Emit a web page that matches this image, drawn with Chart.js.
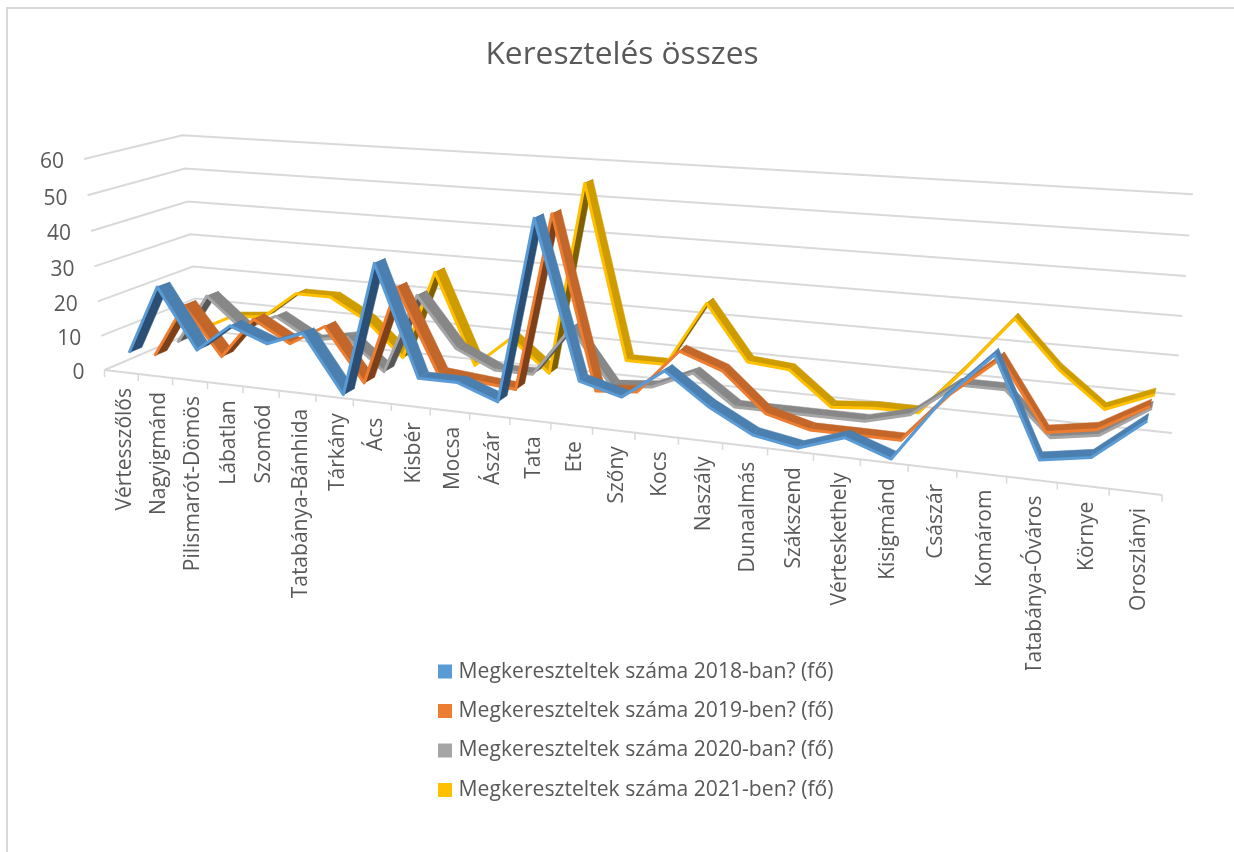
<!DOCTYPE html>
<html lang="hu">
<head>
<meta charset="utf-8">
<style>html,body{margin:0;padding:0;background:#fff}canvas{display:block}</style>
<script src="https://cdn.jsdelivr.net/npm/chart.js@4"></script>
</head>
<body>
<canvas id="c" width="1234" height="852"></canvas>
<script>
const categories = ["Vértesszőlős","Nagyigmánd","Pilismarót-Dömös","Lábatlan","Szomód","Tatabánya-Bánhida","Tárkány","Ács","Kisbér","Mocsa","Ászár","Tata","Ete","Szőny","Kocs","Naszály","Dunaalmás","Szákszend","Vérteskethely","Kisigmánd","Császár","Komárom","Tatabánya-Óváros","Környe","Oroszlányi"];
const values2018 = [5,25,8,16,12,16,0,37,7,7,3,52,11,8,16,8,2,0,4,0,16,28,4,6,16];
const values2019 = [1,17,3,15,9,15,0,28,5,4,3,51,5,6,18,14,4,1,1,1,14,24,7,9,16];
const values2020 = [2,17,8,13,7,9,0,23,9,4,4,18,3,4,9,1,1,1,1,4,13,13,2,4,12];
const values2021 = [3,8,9,17,17,11,1,27,1,10,1,55,7,7,25,10,9,0,1,1,14,28,16,7,12];
const seriesNames = ["Megkereszteltek száma 2018-ban? (fő)","Megkereszteltek száma 2019-ben? (fő)","Megkereszteltek száma 2020-ban? (fő)","Megkereszteltek száma 2021-ben? (fő)"];
const seriesValues = [values2018, values2019, values2020, values2021];
const brightColors = ["#5b9bd5","#ed7d31","#a5a5a5","#ffc000"];
const topColors = ["#4a7fb0","#c2662a","#878787","#cf9c00"];
const underColors = ["#2b4f74","#7d4019","#575757","#7f6000"];
const depths = [0.125,0.375,0.625,0.875];
const ribbonHalf = 0.065, markShift = 0.004;
const TEXT = "#595959", GRID = "#d9d9d9", FONT = "'Open Sans'";

// 3D frame of the plot: homogeneous basis of the perspective view (width, depth, height)
const O=[104.5,370,1], U=[814.8,21.6,-0.2089], W=[110.9,-11,0.0879], V=[-23.4,-216.6,-0.035];
function proj(u,w,t){
  const d=O[2]+U[2]*u+W[2]*w+V[2]*t;
  return {x:(O[0]+U[0]*u+W[0]*w+V[0]*t)/d, y:(O[1]+U[1]*u+W[1]*w+V[1]*t)/d};
}
function norm(chart,i,v){
  const a=chart.chartArea;
  return {u:(chart.scales.x.getPixelForValue(i)-a.left)/a.width+markShift, t:(a.bottom-chart.scales.y.getPixelForValue(v))/a.height};
}

const perspective = {
  id:'perspective',
  afterLayout(chart){
    const a=chart.chartArea, xs=chart.scales.x, ys=chart.scales.y;
    xs.getLabelItems(a).forEach((it,i)=>{
      const p=proj((i+0.5)/categories.length,0,0);
      it.textOffset=0;
      Object.assign(it.options,{translation:[p.x+3.5,p.y+16],textAlign:'right',textBaseline:'middle',rotation:-Math.PI/2});
    });
    ys.getLabelItems(a).forEach((it,i)=>{
      const t=(a.bottom-ys.getPixelForTick(i))/a.height, p=proj(0,0,t);
      it.textOffset=0;
      Object.assign(it.options,{translation:[p.x-20,p.y+3.5],textAlign:'right',textBaseline:'middle'});
    });
    const lg=chart.legend, pad=lg.options.labels.padding;
    lg.left=442-pad; lg.right=1200; lg.top=661-pad; lg.bottom=840; lg.width=lg.right-lg.left; lg.height=lg.bottom-lg.top;
  },
  afterDatasetsUpdate(chart){
    chart.data.datasets.forEach((ds,k)=>{
      const meta=chart.getDatasetMeta(k);
      meta.data.forEach((pt,i)=>{
        const n=norm(chart,i,ds.data[i]), p=proj(n.u,depths[k]-ribbonHalf,n.t);
        pt.x=p.x; pt.y=p.y;
      });
    });
  },
  beforeDraw(chart){
    const c=chart.ctx;
    c.save(); c.strokeStyle=GRID; c.lineWidth=2;
    c.beginPath(); c.moveTo(7,852); c.lineTo(7,8); c.lineTo(1234,8); c.stroke();
    c.restore();
  },
  beforeDatasetsDraw(chart){
    const c=chart.ctx, a=chart.chartArea, ys=chart.scales.y, n=categories.length;
    c.save(); c.strokeStyle=GRID; c.lineWidth=2; c.lineJoin='miter';
    ys.ticks.forEach(tk=>{
      const t=(a.bottom-ys.getPixelForValue(tk.value))/a.height;
      const p0=proj(0,0,t),p1=proj(0,1,t),p2=proj(1,1,t);
      c.beginPath(); c.moveTo(p0.x,p0.y); c.lineTo(p1.x,p1.y); c.lineTo(p2.x,p2.y); c.stroke();
    });
    const f0=proj(0,0,0), f1=proj(1,0,0);
    c.beginPath(); c.moveTo(f0.x,f0.y); c.lineTo(f1.x,f1.y); c.stroke();
    c.lineWidth=1.5;
    for(let i=0;i<=n;i++){
      const p=proj(i/n,0,0);
      c.beginPath(); c.moveTo(p.x,p.y); c.lineTo(p.x,p.y+7); c.stroke();
    }
    c.restore();
  },
  beforeDatasetDraw(chart,args){
    const k=args.index, ds=chart.data.datasets[k], c=chart.ctx, w=depths[k]+ribbonHalf, pts=args.meta.data;
    const back=pts.map((pt,i)=>{const m=norm(chart,i,ds.data[i]); return proj(m.u,w,m.t);});
    c.save();
    for(let i=0;i<pts.length-1;i++){
      const a=pts[i],b=pts[i+1],ba=back[i],bb=back[i+1];
      const cross=(b.x-a.x)*(ba.y-a.y)-(b.y-a.y)*(ba.x-a.x);
      const col=cross<0?topColors[k]:underColors[k];
      c.fillStyle=col; c.strokeStyle=col; c.lineWidth=0.5; c.lineJoin='round';
      c.beginPath(); c.moveTo(a.x,a.y); c.lineTo(b.x,b.y); c.lineTo(bb.x,bb.y); c.lineTo(ba.x,ba.y); c.closePath(); c.fill(); c.stroke();
    }
    c.restore();
  }
};

new Chart(document.getElementById('c'),{
  type:'line',
  data:{labels:categories,datasets:seriesValues.map((d,k)=>({
    label:seriesNames[k],data:d,borderColor:brightColors[k],backgroundColor:brightColors[k],
    borderWidth:3,tension:0,pointRadius:0,pointHoverRadius:0,fill:false,clip:false,borderJoinStyle:'round'
  }))},
  options:{
    responsive:false,animation:false,events:[],
    layout:{padding:{left:10,right:0,top:36,bottom:182}},
    plugins:{
      title:{display:true,text:"Keresztelés összes",color:TEXT,font:{family:FONT,size:31.7,weight:'normal'},padding:{top:0,bottom:58}},
      legend:{position:'chartArea',align:'start',labels:{
        boxWidth:6,boxHeight:6,padding:18.3,color:TEXT,font:{family:FONT,size:21.15},
        generateLabels(chart){return chart.data.datasets.map((ds,i)=>({text:ds.label,fillStyle:brightColors[i],strokeStyle:brightColors[i],lineWidth:8,datasetIndex:i,fontColor:TEXT}));}
      }},
      tooltip:{enabled:false}
    },
    scales:{
      x:{type:'category',offset:true,grid:{display:false},border:{display:false},
        ticks:{autoSkip:false,minRotation:90,maxRotation:90,color:TEXT,font:{family:FONT,size:21}},
        afterFit(s){s.height=300;}},
      y:{min:0,max:60,grid:{display:false},border:{display:false},
        ticks:{stepSize:10,color:TEXT,font:{family:FONT,size:21}},
        afterFit(s){s.width=80;}}
    }
  },
  plugins:[perspective]
});
</script>
</body>
</html>
